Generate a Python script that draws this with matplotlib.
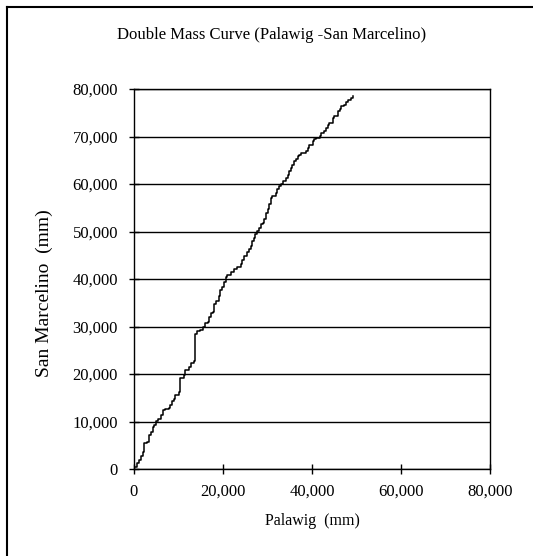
import matplotlib
matplotlib.use("Agg")
import matplotlib.pyplot as plt
from matplotlib.lines import Line2D
from matplotlib.ticker import FuncFormatter, MultipleLocator

plt.rcParams['font.family'] = ['Liberation Serif', 'DejaVu Serif']

title = "Double Mass Curve (Palawig -San Marcelino)"
x_label = "Palawig  (mm)"
y_label = "San Marcelino  (mm)"

palawig = [150, 600, 1200, 1580, 1960, 2330, 3010, 3460, 3840, 4220,
           4600, 4970, 5500, 6030, 6480, 7000, 7760, 8140, 8510, 8890,
           9270, 10000, 10400, 10400, 11150, 11500, 12300, 12700, 13400, 13800,
           13800, 14200, 14900, 15500, 16000, 16600, 16800, 17200, 17800, 17900,
           18500, 19060, 19400, 19800, 20200, 20600, 20900, 21700,
           22400, 23200, 24000, 24300, 24700, 25500, 25800, 26200, 26600, 27000,
           27300, 27700, 28100, 28500, 28900, 29200, 29600, 30000, 30400, 30700,
           31100, 31900, 32200, 32600, 33000, 33400, 34100, 34500, 34900, 35300,
           35600, 36000, 36400, 36800, 37100, 37500, 38600, 39000, 39400, 40200,
           40500, 40900, 41700, 42000, 42800, 43200, 43500, 43900, 44700, 45000,
           45800, 46200, 46600, 47300, 47700, 48100, 48800, 49200]

san_marcelino = [400, 1190, 1890, 2730, 3630, 5390, 5740, 7140, 7830, 8880,
                 9230, 10070, 10620, 11310, 12410, 12700, 12900, 13400, 14290, 14790,
                 15480, 16180, 17270, 19060, 19750, 20740, 21440, 22330, 22830, 23030,
                 28480, 28980, 29280, 29970, 30670, 30870, 31960, 32750, 33050, 34740,
                 35430, 36500, 37600, 38300, 39300, 40400, 40800, 41400,
                 42100, 42500, 43200, 43900, 44900, 45600, 46300, 47000, 48000, 48700,
                 49400, 50100, 50800, 51500, 51700, 52600, 54000, 54700, 55700, 57100,
                 57500, 58200, 58900, 59600, 60100, 60600, 61300, 62000, 62700, 63400,
                 64100, 64800, 65200, 65900, 66200, 66600, 66900, 67600, 68300, 69000,
                 69400, 69700, 70100, 70800, 71100, 71800, 72500, 72900, 73900, 74300,
                 75300, 75700, 76400, 76700, 77300, 77600, 78100, 78500]

W, H = 533, 556
fig = plt.figure(figsize=(W / 100, H / 100), dpi=100)
ax = fig.add_axes([134 / W, 1 - 469 / H, (490 - 134) / W, (469 - 89) / H])

ax.plot(palawig, san_marcelino, color='black', lw=1.1, drawstyle='steps-post')

ax.set_xlim(0, 80000)
ax.set_ylim(0, 80000)
ax.xaxis.set_major_locator(MultipleLocator(20000))
ax.yaxis.set_major_locator(MultipleLocator(10000))
fmt = FuncFormatter(lambda v, p: f"{int(v):,}")
ax.xaxis.set_major_formatter(fmt)
ax.yaxis.set_major_formatter(fmt)
ax.yaxis.grid(True, color='black', lw=1)
ax.set_axisbelow(True)
ax.tick_params(direction='inout', length=7, width=1, labelsize=12, colors='black')
ax.tick_params(axis='x', pad=7)
ax.tick_params(axis='y', pad=8)
for s in ax.spines.values():
    s.set_color('black')
    s.set_linewidth(1)

fig.text(272 / W, 1 - 35 / H, title, ha='center', va='center', fontsize=12)
fig.text(312 / W, 1 - 521 / H, x_label, ha='center', va='center', fontsize=11.5)
fig.text(44 / W, 1 - 293 / H, y_label, ha='center', va='center', fontsize=14, rotation=90)

# outer chart frame (left and top edges visible)
fig.add_artist(Line2D([6.5 / W, 6.5 / W], [0, 1 - 6.5 / H], transform=fig.transFigure, color='black', lw=1.5))
fig.add_artist(Line2D([6.5 / W, 1], [1 - 6.5 / H, 1 - 6.5 / H], transform=fig.transFigure, color='black', lw=1.5))

fig.savefig('out.png', dpi=100)
